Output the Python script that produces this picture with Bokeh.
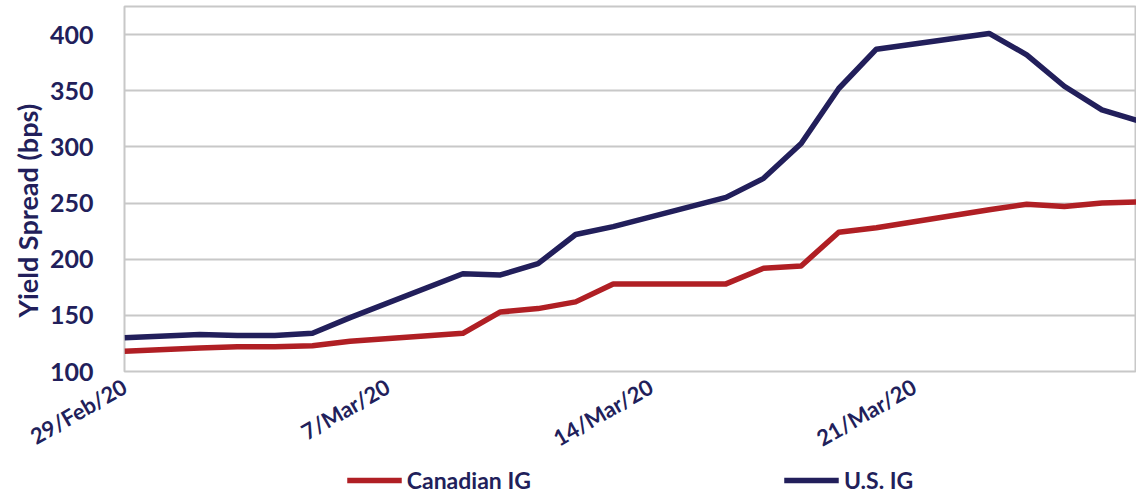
import math
import pandas as pd
from bokeh.plotting import figure
from bokeh.layouts import column
from bokeh.models import ColumnDataSource, FixedTicker, Range1d, Legend, LegendItem, Title
from bokeh.embed import file_html
from bokeh.resources import INLINE

dates = ["2020-02-29", "2020-03-02", "2020-03-03", "2020-03-04", "2020-03-05", "2020-03-06",
         "2020-03-09", "2020-03-10", "2020-03-11", "2020-03-12", "2020-03-13",
         "2020-03-16", "2020-03-17", "2020-03-18", "2020-03-19", "2020-03-20",
         "2020-03-23", "2020-03-24", "2020-03-25", "2020-03-26", "2020-03-27"]
canadian_ig = [118, 121, 122, 122, 123, 127, 134, 153, 156, 162, 178,
               178, 192, 194, 224, 228, 244, 249, 247, 250, 251]
us_ig = [130, 133, 132, 132, 134, 148, 187, 186, 196, 222, 229,
         255, 272, 303, 352, 387, 401, 382, 354, 333, 323]
tick_days = [0, 7, 14, 21]
tick_labels = ["29/Feb/20", "7/Mar/20", "14/Mar/20", "21/Mar/20"]
y_ticks = [100, 150, 200, 250, 300, 350, 400]
series_names = ["Canadian IG", "U.S. IG"]
y_title = "Yield Spread (bps)"

start = pd.Timestamp(dates[0])
days = [(pd.Timestamp(d) - start).days for d in dates]
src = ColumnDataSource(dict(x=days, ca=canadian_ig, us=us_ig))

NAVY = "#221f5b"
RED = "#b01f24"
FONT = "Lato"

p = figure(width=1136, height=466, output_backend="svg", toolbar_location=None,
           x_range=Range1d(0, 26.92), y_range=Range1d(100, 425),
           min_border_left=124, min_border_right=0, min_border_top=6, min_border_bottom=95)
p.background_fill_color = "white"
p.border_fill_color = "white"
p.outline_line_color = "#c8c8c8"
p.outline_line_width = 2

p.line("x", "ca", source=src, line_color=RED, line_width=5.5, line_join="round")
p.line("x", "us", source=src, line_color=NAVY, line_width=5.5, line_join="round")

p.xgrid.grid_line_color = None
p.ygrid.grid_line_color = "#c8c8c8"
p.ygrid.grid_line_width = 2
p.yaxis.ticker = FixedTicker(ticks=y_ticks)
p.xaxis.ticker = FixedTicker(ticks=tick_days)
p.xaxis.major_label_overrides = {d: l for d, l in zip(tick_days, tick_labels)}

for ax in (p.xaxis[0], p.yaxis[0]):
    ax.axis_line_color = None
    ax.major_tick_line_color = None
    ax.minor_tick_line_color = None
    ax.major_label_text_font = FONT
    ax.major_label_text_font_style = "bold"
    ax.major_label_text_color = NAVY

p.yaxis.major_label_text_font_size = "25px"
p.yaxis.major_label_standoff = 25

p.add_layout(Title(text=y_title, align="left", offset=54, standoff=5,
                   text_font=FONT, text_font_style="bold", text_font_size="27px",
                   text_color=NAVY), "left")

p.xaxis.major_label_text_font_size = "22px"
p.xaxis.major_label_orientation = math.pi / 6
p.xaxis.major_label_standoff = 7

# legend row
q = figure(width=1136, height=28, output_backend="svg", toolbar_location=None,
           x_axis_location=None, y_axis_location=None,
           min_border_left=0, min_border_right=0, min_border_top=0, min_border_bottom=0)
q.outline_line_color = None
q.grid.grid_line_color = None
l_ca = q.line("x", "ca", source=src, line_color=RED, line_width=5.5, visible=False)
l_us = q.line("x", "us", source=src, line_color=NAVY, line_width=5.5, visible=False)
legend = Legend(items=[LegendItem(label=series_names[0], renderers=[l_ca]),
                       LegendItem(label=series_names[1], renderers=[l_us])],
                orientation="horizontal", location="center")
legend.label_text_font = FONT
legend.label_text_font_style = "bold"
legend.label_text_font_size = "23px"
legend.label_text_color = NAVY
legend.glyph_width = 55
legend.glyph_height = 20
legend.label_standoff = 5
legend.spacing = 253
legend.border_line_color = None
legend.background_fill_alpha = 0
legend.inactive_fill_alpha = 0
legend.padding = 0
legend.margin = 0
q.add_layout(legend, "center")

layout = column(p, q, spacing=0)
open("out.html", "w").write(file_html(layout, INLINE))
